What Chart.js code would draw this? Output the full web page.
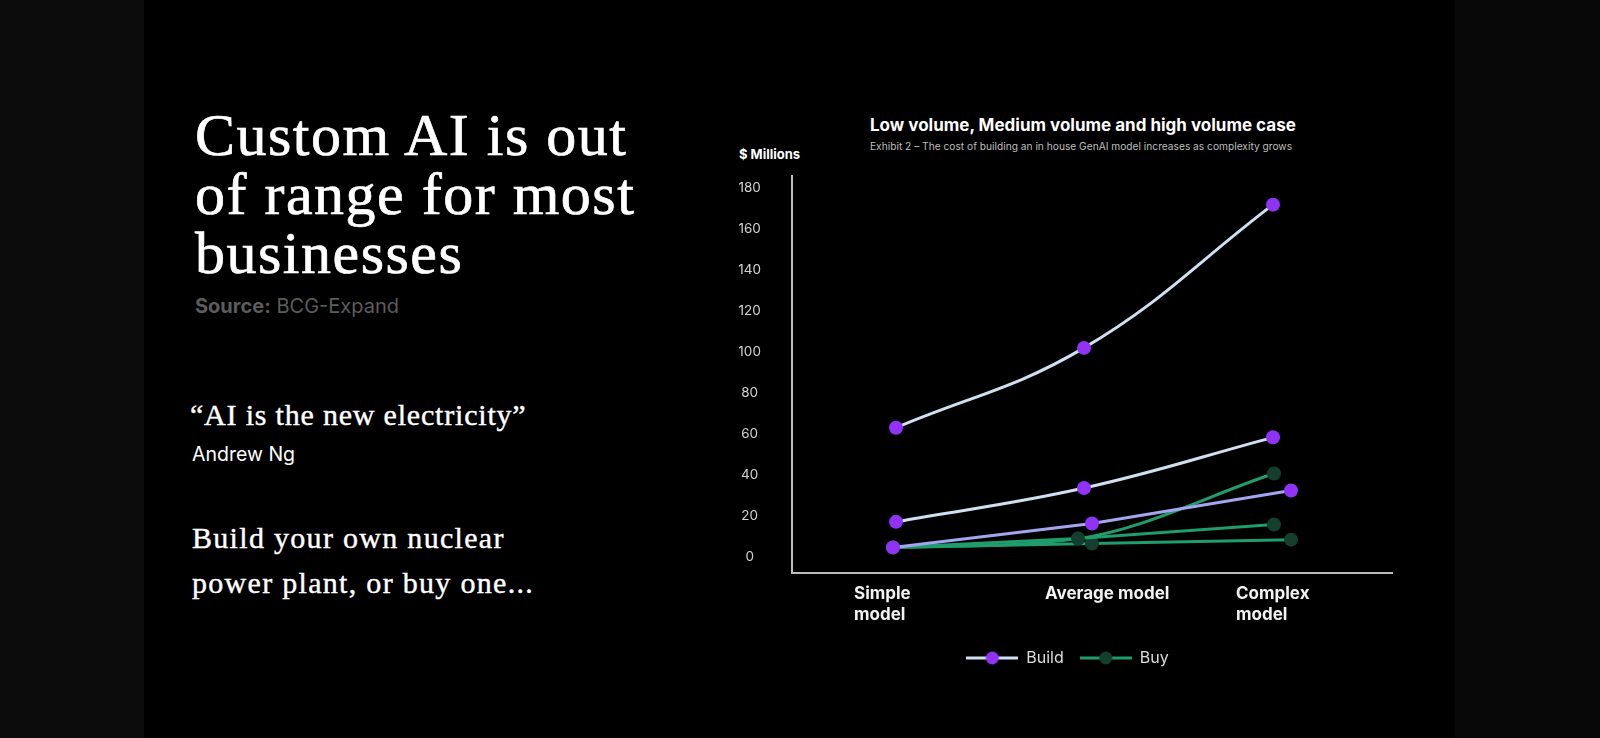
<!DOCTYPE html>
<html>
<head>
<meta charset="utf-8">
<script src="https://cdn.jsdelivr.net/npm/chart.js@4"></script>
<style>
  html, body { margin: 0; padding: 0; }
  body { width: 1600px; height: 738px; background: #000; position: relative; overflow: hidden; font-family: Inter, "Noto Sans", sans-serif; }
  .side-l { position: absolute; left: 0; top: 0; width: 144px; height: 738px; background: #0c0c0c; }
  .side-r { position: absolute; left: 1455px; top: 0; width: 145px; height: 738px; background: #080808; }
  .headline { position: absolute; left: 195px; top: 106px; color: #fff; font-family: "Liberation Serif", serif; font-size: 60px; line-height: 59px; letter-spacing: 1.5px; white-space: nowrap; -webkit-text-stroke: 0.7px #fff; }
  .source { position: absolute; left: 195px; top: 296px; color: #5c5c5c; font-size: 20px; line-height: 20px; }
  .source b { font-weight: 700; }
  .quote { position: absolute; left: 190px; top: 400px; color: #fff; font-family: "Liberation Serif", serif; font-size: 30px; line-height: 30px; letter-spacing: 0.8px; white-space: nowrap; -webkit-text-stroke: 0.4px #fff; }
  .author { position: absolute; left: 192px; top: 445px; color: #fff; font-size: 19.5px; line-height: 19px; font-weight: 400; }
  .pitch { position: absolute; left: 192px; top: 515px; color: #fff; font-family: "Liberation Serif", serif; font-size: 30px; line-height: 45px; letter-spacing: 1.3px; white-space: nowrap; -webkit-text-stroke: 0.4px #fff; }
  .ctitle { position: absolute; left: 870px; top: 114px; color: #fff; font-size: 17px; line-height: 22px; font-weight: 700; white-space: nowrap; }
  .csub { position: absolute; left: 870px; top: 140px; color: #bdbdbd; font-size: 10.2px; line-height: 12px; white-space: nowrap; }
  .unit { position: absolute; left: 739px; top: 146px; color: #fff; font-size: 13px; line-height: 16px; font-weight: 700; white-space: nowrap; }
  #wrap { position: absolute; left: 700px; top: 100px; width: 699px; height: 576px; }
</style>
</head>
<body>
<div class="side-l"></div>
<div class="side-r"></div>

<div class="headline">Custom AI is out<br>of range for most<br>businesses</div>
<div class="source"><b>Source:</b> BCG-Expand</div>
<div class="quote">“AI is the new electricity”</div>
<div class="author">Andrew Ng</div>
<div class="pitch">Build your own nuclear<br>power plant, or buy one...</div>

<div class="ctitle">Low volume, Medium volume and high volume case</div>
<div class="csub">Exhibit 2 – The cost of building an in house GenAI model increases as complexity grows</div>
<div class="unit">$ Millions</div>

<div id="wrap"><canvas id="costChart"></canvas></div>

<script>
// categories (x axis) and y ticks
const xTickLabels = [['Simple', 'model'], 'Average model', ['Complex', 'model']];
const yTickValues = [0, 20, 40, 60, 80, 100, 120, 140, 160, 180];
const seriesNames = ['Build', 'Buy'];

// where each series sits on the x axis (0 = simple, 1 = average, 2 = complex)
const xBuildUpper = [0.02, 0.96, 1.905];
const xLower = [0.005, 1.0, 1.995];
const xBuyUpper = [0.005, 0.93, 1.91];

// $ millions
const buildHigh = [63, 102, 172];
const buildMedium = [17, 33.5, 58.3];
const buildLow = [4.5, 16.2, 32.3];
const buyHigh = [4.5, 8.8, 40.6];
const buyMedium = [4.5, 8.8, 15.7];
const buyLow = [4.5, 6.4, 8.3];

const xTickPos = [-0.19, 0.765, 1.72];

const purple = '#9033f7';
const buildLine = '#cfe0f2';
const buildLineLow = '#a3a6ee';
const buyLine = '#1f9d6b';
const buyDot = '#143f2e';

function pts(xs, ys) {
    return ys.map((y, i) => ({ x: xs[i], y: y }));
}

function legendIcon(lineColor, dotColor) {
    const c = document.createElement('canvas');
    c.width = 52;
    c.height = 16;
    const g = c.getContext('2d');
    g.strokeStyle = lineColor;
    g.lineWidth = 3;
    g.beginPath();
    g.moveTo(0, 8);
    g.lineTo(52, 8);
    g.stroke();
    g.fillStyle = dotColor;
    g.beginPath();
    g.arc(26, 8, 6.5, 0, Math.PI * 2);
    g.fill();
    return c;
}

// curve: 'spline', 'monotone' or false (straight)
function line(label, xs, ys, color, dot, curve) {
    return {
        label: label,
        data: pts(xs, ys),
        borderColor: color,
        borderWidth: 3,
        pointBackgroundColor: dot,
        pointBorderWidth: 0,
        pointRadius: 7,
        pointHoverRadius: 7,
        cubicInterpolationMode: curve === 'monotone' ? 'monotone' : 'default',
        tension: curve === 'spline' ? 0.4 : 0,
        fill: false
    };
}

const icons = [legendIcon(buildLine, purple), legendIcon(buyLine, buyDot)];

const ctx = document.getElementById('costChart').getContext('2d');
new Chart(ctx, {
    type: 'line',
    data: {
        datasets: [
            line(seriesNames[0], xBuildUpper, buildHigh, buildLine, purple, 'spline'),
            line(seriesNames[0], xBuildUpper, buildMedium, buildLine, purple, 'spline'),
            line(seriesNames[0], xLower, buildLow, buildLineLow, purple, false),
            line(seriesNames[1], xBuyUpper, buyHigh, buyLine, buyDot, 'monotone'),
            line(seriesNames[1], xBuyUpper, buyMedium, buyLine, buyDot, false),
            line(seriesNames[1], xLower, buyLow, buyLine, buyDot, false)
        ]
    },
    options: {
        responsive: true,
        maintainAspectRatio: false,
        animation: false,
        layout: { padding: { left: 36, right: 0, top: 76, bottom: 0 } },
        plugins: {
            tooltip: { enabled: false },
            legend: {
                position: 'bottom',
                labels: {
                    usePointStyle: true,
                    pointStyleWidth: 52,
                    padding: 16,
                    color: '#dcdcdc',
                    font: { family: 'Inter', size: 16 },
                    generateLabels: () => seriesNames.map((name, i) => ({
                        text: name,
                        pointStyle: icons[i],
                        fillStyle: 'transparent',
                        strokeStyle: 'transparent',
                        lineWidth: 0,
                        hidden: false,
                        datasetIndex: i === 0 ? 0 : 3,
                        fontColor: '#dcdcdc'
                    }))
                }
            }
        },
        scales: {
            x: {
                type: 'linear',
                min: -0.5,
                max: 2.5,
                afterFit: (scale) => {
                    scale.height = 61;
                    scale.paddingLeft = 0;
                    scale.paddingRight = 0;
                },
                afterBuildTicks: (scale) => { scale.ticks = xTickPos.map(v => ({ value: v })); },
                grid: { display: false, drawTicks: false },
                border: { display: true, color: '#bdbdbd', width: 2 },
                ticks: {
                    autoSkip: false,
                    maxRotation: 0,
                    minRotation: 0,
                    align: 'start',
                    padding: 10,
                    color: '#f2f2f2',
                    font: { family: 'Inter', size: 17, weight: '700', lineHeight: 1.25 },
                    callback: (value, index) => xTickLabels[index]
                }
            },
            y: {
                min: -8,
                max: 186,
                afterFit: (scale) => { scale.width = 56; },
                afterBuildTicks: (scale) => { scale.ticks = yTickValues.map(v => ({ value: v })); },
                grid: { display: false, drawTicks: false },
                border: { display: true, color: '#bdbdbd', width: 2 },
                ticks: {
                    crossAlign: 'center',
                    padding: 31,
                    color: '#d2d2d2',
                    font: { family: 'Inter', size: 13.5 }
                }
            }
        }
    }
});
</script>
</body>
</html>
